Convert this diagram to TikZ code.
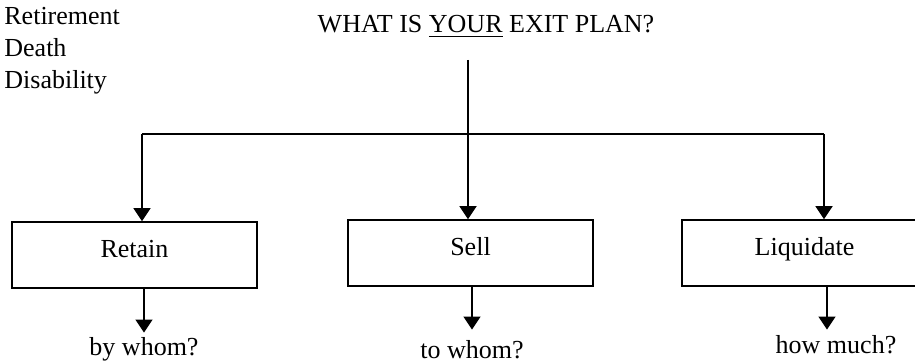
\documentclass[tikz,border=0pt]{standalone}
\usepackage{fontspec}
\setmainfont{Liberation Serif}
\usetikzlibrary{arrows.meta, positioning, calc}

\begin{document}
\begin{tikzpicture}[
  x=0.5pt, y=-0.5pt,
  every node/.style={font=\fontsize{13}{16}\selectfont},
  box/.style={rectangle, draw, line width=0.8pt, minimum width=122.5pt,
              text height=18pt, text depth=15pt, inner ysep=0pt, anchor=base},
  answer/.style={anchor=base, inner sep=0pt},
  arrow/.style={-{Triangle[width=8.5pt,length=6.5pt]}, line width=0.8pt}
]
\useasboundingbox (0,0) rectangle (915,362);

\node[anchor=north west, align=left, inner sep=0pt] (causes) at (4,7) {Retirement\\Death\\Disability};
\node[anchor=base, inner sep=0pt] (question) at (486,33) {WHAT IS \underline{YOUR} EXIT PLAN?};

\node[box] (retain) at (134.5,258) {Retain};
\node[box] (sell) at (470.5,256) {Sell};
\node[box] (liquidate) at (804.5,256) {Liquidate};

\node[answer] (bywhom) at (144,356) {by whom?};
\node[answer] (towhom) at (472,359) {to whom?};
\node[answer] (howmuch) at (836,354) {how much?};

% split below the question
\coordinate (stem) at (468,60);
\coordinate (fork) at (468,134);
\coordinate (leftend) at (142,134);
\coordinate (rightend) at (824,134);

\draw[line width=0.8pt] (stem) -- (fork);
\draw[line width=0.8pt] (leftend) -- (rightend);
\draw[arrow] (leftend) -- (leftend |- retain.north);
\draw[arrow] (fork) -- (fork |- sell.north);
\draw[arrow] (rightend) -- (rightend |- liquidate.north);

\draw[arrow] (retain.south -| bywhom.north) -- ([yshift=2.5pt]bywhom.north);
\draw[arrow] (sell.south -| towhom.north) -- ([yshift=5.5pt]towhom.north);
\draw[arrow] ([xshift=-4.5pt]liquidate.south -| howmuch.north) -- ([xshift=-4.5pt,yshift=3pt]howmuch.north);

\end{tikzpicture}
\end{document}
